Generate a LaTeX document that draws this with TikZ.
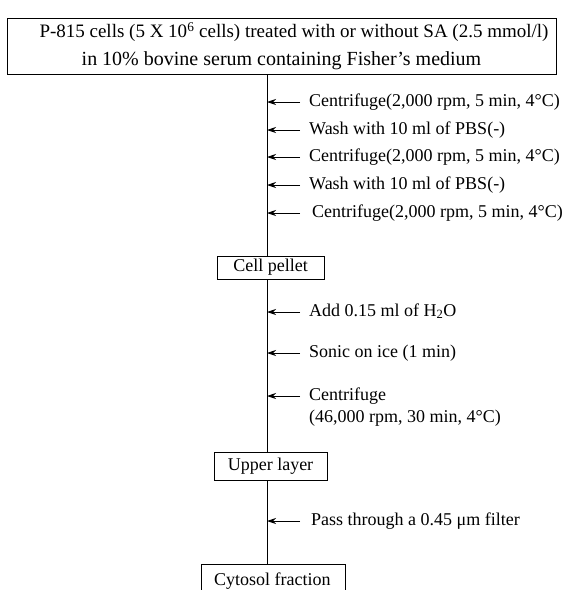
\documentclass[tikz,border=0pt]{standalone}
\usepackage{fontspec}
\setmainfont{Liberation Serif}
\usetikzlibrary{arrows.meta}
\begin{document}
\begin{tikzpicture}[x=1pt,y=-1pt,
  every node/.style={font=\fontsize{18}{28}\selectfont},
  stepbox/.style={draw, line width=0.9pt, inner sep=0pt, text height=12.6pt, text depth=4.5pt},
  steptext/.style={anchor=west, inner sep=0pt, text height=12.6pt, text depth=4.5pt},
  flow/.style={line width=1pt},
  arr/.style={line width=0.9pt, -{Stealth[length=9pt,width=6pt,inset=3pt]}}
]
\useasboundingbox (0,0) rectangle (566,590);
\coordinate (L) at (267,0);

\node[draw, line width=0.9pt, minimum width=549pt, minimum height=56pt, inner sep=0pt, align=center] (top) at (281.5,46)
  {\fontsize{19}{28}\selectfont\hspace*{25pt}P-815 cells (5 X 10\textsuperscript{6} cells) treated with or without SA (2.5 mmol/l)\\
   \fontsize{20}{28}\selectfont in 10\% bovine serum containing Fisher's medium};

\node[stepbox, minimum width=107pt, minimum height=23pt] (cell) at (270.5,267.5) {Cell pellet};
\node[stepbox, minimum width=113pt, minimum height=28pt] (upper) at (270.5,466) {Upper layer};
\node[draw, line width=0.9pt, minimum width=144pt, minimum height=40pt, inner sep=0pt, anchor=north west] (cyto) at (201,564) {};
\node[steptext] (cytot) at (214,581) {Cytosol fraction};

\draw[flow] (top.south -| L) -- (cell.north -| L);
\draw[flow] (cell.south -| L) -- (upper.north -| L);
\draw[flow] (upper.south -| L) -- (cyto.north -| L);

\node[steptext] (s1) at (309,102) {Centrifuge(2,000 rpm, 5 min, 4°C)};
\node[steptext] (s2) at (309,130) {Wash with 10 ml of PBS(-)};
\node[steptext] (s3) at (309,157) {Centrifuge(2,000 rpm, 5 min, 4°C)};
\node[steptext] (s4) at (309,185) {Wash with 10 ml of PBS(-)};
\node[steptext] (s5) at (312,213) {Centrifuge(2,000 rpm, 5 min, 4°C)};
\node[steptext] (s6) at (309,312) {Add 0.15 ml of H\textsubscript{2}O};
\node[steptext] (s7) at (309,353) {Sonic on ice (1 min)};
\node[steptext] (s8) at (309,396) {Centrifuge};
\node[steptext] (s8b) at (309,418) {(46,000 rpm, 30 min, 4°C)};
\node[steptext] (s9) at (311,521) {Pass through a 0.45 μm filter};

\foreach \s in {s1,s2,s3,s4,s6,s7,s8}{
  \draw[arr] ([xshift=-9pt]\s.west) -- (\s.west -| L);
}
\draw[arr] ([xshift=-12pt]s5.west) -- (s5.west -| L);
\draw[arr] ([xshift=-11pt]s9.west) -- (s9.west -| L);
\end{tikzpicture}
\end{document}
